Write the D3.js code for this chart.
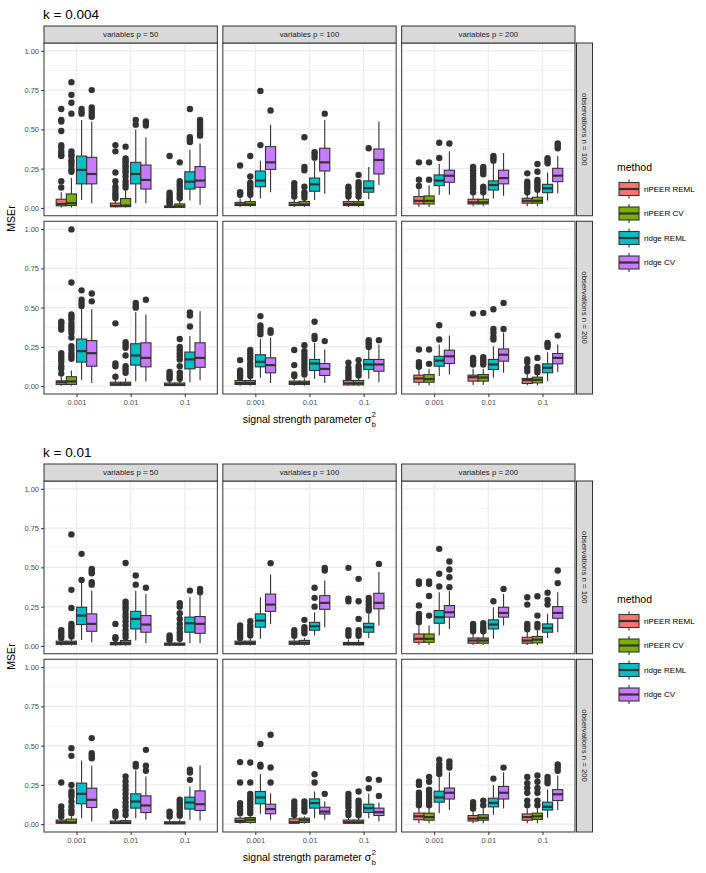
<!DOCTYPE html>
<html><head><meta charset="utf-8">
<script src="https://cdn.jsdelivr.net/npm/d3@7"></script>
<style>body{margin:0;background:#fff} svg{display:block} text{font-family:"Liberation Sans",Arial,Helvetica,sans-serif}</style>
</head><body><svg id="c" width="706" height="873"></svg>
<script>
// ---------------- DATA ----------------
const methods = ["riPEER REML","riPEER CV","ridge REML","ridge CV"];
const methodColors = ["#F8766D","#7CAE00","#00BFC4","#C77CFF"];
const sigmaLabels = ["0.001","0.01","0.1"];
const pLabels = ["variables p = 50","variables p = 100","variables p = 200"];
const nLabels = ["observations n = 100","observations n = 200"];
const yTicks = [0, 0.25, 0.5, 0.75, 1];
const yMinor = [0.125, 0.375, 0.625, 0.875];
const kTitles = ["k = 0.004","k = 0.01"];

// each entry: [lowerWhisker, q1, median, q3, upperWhisker, outliers]; order: sigma 0.001 (4 methods), 0.01, 0.1
const k004_p50_n100 = [
 [0.003,0.013,0.025,0.055,0.10,[0.63,0.56,0.55,0.49,0.40,0.385,0.36,0.34,0.33,0.17,0.13]],
 [0.003,0.015,0.03,0.089,0.19,[0.80,0.72,0.67,0.60,0.36,0.34,0.33,0.305,0.29,0.27,0.245,0.23]],
 [0.05,0.153,0.242,0.33,0.56,[0.63,0.61,0.60]],
 [0.03,0.153,0.216,0.322,0.55,[0.75,0.64,0.62,0.60,0.58]],
 [0.002,0.008,0.012,0.03,0.045,[0.40,0.36,0.225,0.17,0.135,0.115,0.093,0.078,0.061]],
 [0.002,0.008,0.015,0.06,0.12,[0.39,0.315,0.30,0.29,0.27,0.26,0.24,0.225,0.2,0.17,0.15,0.13]],
 [0.03,0.153,0.216,0.29,0.50,[0.56,0.53]],
 [0.03,0.12,0.178,0.273,0.45,[0.55,0.54,0.525]],
 [0.001,0.004,0.006,0.012,0.02,[0.33,0.097,0.083,0.068,0.055,0.045,0.034,0.025]],
 [0.001,0.004,0.01,0.025,0.05,[0.29,0.17,0.15,0.135,0.115,0.093,0.076,0.061]],
 [0.047,0.12,0.167,0.23,0.37,[0.63,0.45,0.44,0.43,0.42]],
 [0.02,0.131,0.174,0.263,0.41,[0.56,0.54,0.52,0.50,0.475,0.46]]
];
const k004_p100_n100 = [
 [0.005,0.015,0.022,0.035,0.06,[0.27,0.10,0.093,0.083]],
 [0.005,0.015,0.022,0.04,0.07,[0.33,0.2,0.16,0.145,0.13,0.115,0.097,0.083]],
 [0.06,0.135,0.174,0.235,0.30,[0.745,0.40]],
 [0.10,0.245,0.29,0.39,0.53,[0.62]],
 [0.005,0.015,0.02,0.035,0.055,[0.157,0.135,0.115,0.093,0.072]],
 [0.005,0.015,0.022,0.04,0.055,[0.45,0.26,0.24,0.135,0.10,0.083,0.065]],
 [0.05,0.106,0.15,0.19,0.30,[0.354,0.337,0.32]],
 [0.09,0.235,0.29,0.38,0.56,[0.60]],
 [0.005,0.015,0.025,0.04,0.06,[0.135,0.12,0.10,0.089,0.072]],
 [0.005,0.015,0.025,0.04,0.06,[0.21,0.163,0.144,0.131,0.115,0.093,0.072]],
 [0.055,0.10,0.125,0.172,0.26,[0.38]],
 [0.146,0.216,0.305,0.375,0.55,[]]
];
const k004_p200_n100 = [
 [0.005,0.025,0.045,0.072,0.12,[0.29,0.18,0.14]],
 [0.005,0.025,0.045,0.076,0.144,[0.29,0.18]],
 [0.083,0.142,0.174,0.21,0.28,[0.415,0.318]],
 [0.083,0.163,0.205,0.24,0.36,[0.41]],
 [0.01,0.025,0.035,0.055,0.09,[0.26,0.24,0.22,0.2,0.178,0.16,0.14,0.125,0.10]],
 [0.01,0.025,0.035,0.055,0.09,[0.26,0.245,0.23,0.214,0.135,0.12,0.10]],
 [0.06,0.114,0.146,0.172,0.28,[0.33,0.316,0.30]],
 [0.078,0.153,0.19,0.24,0.35,[]],
 [0.01,0.03,0.045,0.061,0.09,[0.22,0.167,0.15,0.135,0.12,0.10]],
 [0.01,0.03,0.045,0.068,0.10,[0.28,0.23,0.178,0.163,0.146,0.131,0.115]],
 [0.047,0.097,0.125,0.15,0.225,[0.316,0.30,0.284]],
 [0.093,0.167,0.205,0.252,0.33,[0.41,0.396,0.38]]
];
const k004_p50_n200 = [
 [0.002,0.011,0.025,0.034,0.06,[0.41,0.40,0.38,0.36,0.21,0.19,0.17,0.153,0.127,0.11,0.08]],
 [0.002,0.011,0.03,0.06,0.10,[0.998,0.66,0.456,0.44,0.425,0.40,0.38,0.36,0.34,0.31,0.255,0.234,0.21,0.19,0.174]],
 [0.04,0.153,0.223,0.30,0.50,[0.61,0.55,0.53,0.51]],
 [0.02,0.127,0.21,0.29,0.49,[0.59,0.54]],
 [0.001,0.006,0.012,0.025,0.045,[0.40,0.144,0.127,0.06]],
 [0.001,0.006,0.012,0.025,0.05,[0.28,0.26,0.244,0.195,0.127,0.106,0.085]],
 [0.03,0.134,0.195,0.27,0.47,[0.53,0.51,0.50]],
 [0.03,0.123,0.18,0.276,0.456,[0.55]],
 [0.001,0.004,0.008,0.02,0.035,[0.09,0.074,0.06,0.047]],
 [0.001,0.004,0.008,0.02,0.035,[0.30,0.25,0.23,0.21,0.19,0.17,0.127,0.085,0.064,0.047]],
 [0.025,0.11,0.17,0.217,0.32,[0.47,0.45,0.38]],
 [0.038,0.12,0.18,0.276,0.477,[]]
];
const k004_p100_n200 = [
 [0.002,0.011,0.02,0.036,0.045,[0.166,0.10,0.085,0.068,0.053]],
 [0.002,0.011,0.02,0.036,0.05,[0.23,0.21,0.187,0.17,0.144,0.127,0.106,0.085,0.064]],
 [0.053,0.123,0.155,0.20,0.30,[0.446,0.386,0.37,0.35,0.33]],
 [0.02,0.085,0.134,0.18,0.31,[0.357,0.34]],
 [0.002,0.011,0.02,0.032,0.05,[0.23,0.134,0.074,0.064]],
 [0.002,0.011,0.02,0.032,0.05,[0.26,0.223,0.2,0.18,0.16,0.138,0.117,0.095,0.074]],
 [0.047,0.10,0.144,0.17,0.276,[0.41,0.32,0.30]],
 [0.02,0.068,0.11,0.144,0.234,[0.287]],
 [0.002,0.008,0.018,0.036,0.04,[0.15,0.117,0.095,0.08,0.064,0.047]],
 [0.002,0.008,0.018,0.036,0.05,[0.166,0.13,0.11,0.09,0.068]],
 [0.047,0.106,0.138,0.17,0.234,[0.293,0.28,0.265,0.25]],
 [0.025,0.095,0.138,0.17,0.265,[0.293]]
];
const k004_p200_n200 = [
 [0.005,0.025,0.049,0.07,0.11,[0.233,0.153,0.138,0.123]],
 [0.005,0.025,0.045,0.074,0.11,[0.233,0.142]],
 [0.064,0.127,0.163,0.19,0.265,[0.388,0.297]],
 [0.074,0.144,0.19,0.229,0.322,[]],
 [0.008,0.032,0.057,0.07,0.11,[0.462,0.18,0.165,0.153,0.138]],
 [0.008,0.032,0.055,0.074,0.11,[0.466,0.184,0.17,0.153,0.138]],
 [0.053,0.106,0.138,0.17,0.254,[0.49,0.364,0.34,0.314,0.297]],
 [0.085,0.159,0.20,0.237,0.34,[0.53,0.364]],
 [0.005,0.017,0.038,0.049,0.08,[0.17,0.153,0.117,0.095]],
 [0.005,0.021,0.04,0.057,0.08,[0.18,0.123,0.106,0.089]],
 [0.032,0.085,0.117,0.142,0.216,[0.275,0.265,0.25]],
 [0.089,0.142,0.18,0.208,0.265,[0.322]]
];
const k01_p50_n100 = [
 [0.002,0.01,0.018,0.03,0.045,[0.1,0.08,0.064,0.05]],
 [0.002,0.01,0.018,0.03,0.045,[0.71,0.357,0.242,0.14,0.123,0.108,0.093,0.076,0.06]],
 [0.038,0.136,0.193,0.246,0.40,[0.586,0.42]],
 [0.023,0.093,0.14,0.204,0.352,[0.49,0.475,0.463,0.405,0.39]],
 [0.001,0.008,0.012,0.022,0.035,[0.14,0.055,0.045]],
 [0.001,0.008,0.019,0.034,0.045,[0.528,0.282,0.267,0.246,0.23,0.204,0.183,0.157,0.13,0.102,0.076,0.055]],
 [0.034,0.108,0.172,0.22,0.35,[0.448,0.39]],
 [0.017,0.087,0.136,0.193,0.33,[0.37]],
 [0.001,0.005,0.01,0.018,0.03,[0.066,0.05,0.038]],
 [0.001,0.005,0.01,0.018,0.03,[0.272,0.25,0.208,0.172,0.14,0.113,0.087,0.066,0.045]],
 [0.017,0.087,0.144,0.183,0.31,[0.352]],
 [0.017,0.08,0.14,0.187,0.327,[0.363,0.342]]
];
const k01_p100_n100 = [
 [0.003,0.01,0.018,0.03,0.045,[0.13,0.108,0.087,0.066,0.05]],
 [0.003,0.01,0.018,0.03,0.045,[0.157,0.13,0.108,0.087,0.066]],
 [0.045,0.119,0.161,0.204,0.31,[]],
 [0.14,0.22,0.263,0.33,0.454,[0.527]],
 [0.003,0.01,0.018,0.03,0.045,[0.1,0.08,0.064]],
 [0.003,0.01,0.02,0.035,0.05,[0.166,0.119,0.1,0.08]],
 [0.066,0.10,0.125,0.15,0.214,[0.37,0.306,0.25]],
 [0.119,0.233,0.274,0.32,0.416,[0.497,0.48]],
 [0.002,0.007,0.012,0.022,0.04,[0.497,0.30,0.284,0.1,0.08,0.064]],
 [0.002,0.007,0.012,0.022,0.04,[0.427,0.284,0.172,0.1,0.08,0.064]],
 [0.05,0.087,0.119,0.144,0.204,[0.306,0.284,0.263,0.242,0.225]],
 [0.13,0.236,0.274,0.335,0.47,[0.522]]
];
const k01_p200_n100 = [
 [0.005,0.023,0.045,0.076,0.13,[0.41,0.395,0.257,0.204,0.187,0.172,0.15]],
 [0.005,0.023,0.045,0.076,0.13,[0.41,0.395,0.318,0.193]],
 [0.066,0.144,0.183,0.225,0.342,[0.618,0.459,0.378]],
 [0.108,0.183,0.214,0.257,0.35,[0.537,0.486,0.437,0.374]],
 [0.005,0.017,0.034,0.05,0.09,[0.14,0.123,0.108,0.093]],
 [0.005,0.017,0.034,0.05,0.09,[0.144,0.123,0.108,0.093]],
 [0.045,0.108,0.136,0.166,0.246,[0.284]],
 [0.13,0.183,0.21,0.246,0.33,[0.363]],
 [0.005,0.017,0.034,0.055,0.09,[0.31,0.263,0.14,0.123,0.106]],
 [0.005,0.019,0.04,0.06,0.10,[0.316,0.193,0.14,0.119]],
 [0.05,0.087,0.113,0.14,0.204,[0.338,0.293,0.263]],
 [0.087,0.176,0.21,0.25,0.342,[0.48,0.40]]
];
const k01_p50_n200 = [
 [0.002,0.006,0.012,0.026,0.045,[0.265,0.112,0.087,0.066,0.049]],
 [0.002,0.006,0.012,0.032,0.05,[0.484,0.435,0.25,0.208,0.193,0.176,0.144,0.112,0.087,0.07]],
 [0.038,0.13,0.193,0.261,0.405,[]],
 [0.017,0.106,0.155,0.229,0.372,[0.548,0.452,0.435,0.42]],
 [0.001,0.004,0.008,0.02,0.035,[0.08,0.066,0.049]],
 [0.001,0.004,0.01,0.022,0.04,[0.304,0.272,0.244,0.219,0.193,0.166,0.138,0.112,0.087,0.059]],
 [0.038,0.102,0.144,0.193,0.342,[0.384,0.367]],
 [0.028,0.074,0.119,0.18,0.304,[0.473,0.372,0.34]],
 [0.001,0.003,0.006,0.015,0.03,[0.08,0.066,0.049]],
 [0.001,0.003,0.006,0.015,0.03,[0.155,0.138,0.123,0.108,0.091,0.07,0.053]],
 [0.028,0.096,0.138,0.172,0.24,[0.346,0.329,0.282]],
 [0.023,0.087,0.127,0.212,0.374,[]]
];
const k01_p100_n200 = [
 [0.002,0.011,0.021,0.038,0.055,[0.395,0.265,0.134,0.112,0.091,0.07]],
 [0.002,0.011,0.028,0.042,0.055,[0.393,0.265,0.193,0.176,0.159,0.142,0.125,0.108,0.087,0.07]],
 [0.066,0.13,0.17,0.208,0.32,[0.51,0.378,0.367]],
 [0.028,0.066,0.096,0.127,0.197,[0.569,0.361,0.265]],
 [0.002,0.006,0.012,0.034,0.05,[0.144,0.123,0.102,0.08,0.059]],
 [0.002,0.011,0.025,0.038,0.05,[0.144,0.123,0.102,0.08]],
 [0.038,0.102,0.134,0.161,0.208,[0.318,0.265]],
 [0.028,0.064,0.08,0.108,0.144,[0.193]],
 [0.002,0.006,0.012,0.026,0.045,[0.193,0.172,0.15,0.13,0.108,0.08,0.059]],
 [0.002,0.006,0.012,0.026,0.045,[0.208,0.15,0.134,0.117,0.096,0.074,0.057]],
 [0.038,0.074,0.102,0.127,0.193,[0.287,0.229]],
 [0.017,0.055,0.076,0.102,0.138,[0.282,0.18]]
];
const k01_p200_n200 = [
 [0.005,0.028,0.05,0.07,0.11,[0.27,0.25,0.20,0.18,0.16,0.14,0.12]],
 [0.005,0.025,0.045,0.07,0.11,[0.30,0.27,0.22,0.20,0.18,0.16,0.14,0.12]],
 [0.07,0.14,0.17,0.21,0.30,[0.41,0.38,0.36,0.34,0.32]],
 [0.09,0.16,0.20,0.23,0.33,[0.40,0.38,0.36]],
 [0.005,0.02,0.035,0.055,0.09,[0.14,0.12,0.10]],
 [0.005,0.025,0.04,0.06,0.10,[0.15,0.12]],
 [0.06,0.11,0.135,0.165,0.25,[0.29]],
 [0.10,0.16,0.20,0.24,0.33,[0.36]],
 [0.005,0.025,0.045,0.065,0.10,[0.30,0.26,0.23,0.20,0.15,0.12]],
 [0.005,0.03,0.05,0.07,0.11,[0.31,0.27,0.23,0.20,0.15,0.12]],
 [0.04,0.09,0.11,0.14,0.22,[0.30,0.28,0.26]],
 [0.09,0.15,0.19,0.22,0.31,[0.38,0.36,0.34]]
];

// plot -> row (n) -> column (p)
const plotPanels = [
  [[k004_p50_n100, k004_p100_n100, k004_p200_n100],[k004_p50_n200, k004_p100_n200, k004_p200_n200]],
  [[k01_p50_n100, k01_p100_n100, k01_p200_n100],[k01_p50_n200, k01_p100_n200, k01_p200_n200]]
];

// ---------------- LAYOUT ----------------
const svg = d3.select("#c");
const L = {left:44, right:575, gap:5.5, stripTop:26, stripH:17, rowH:172.75,
           plotOffsets:[0,438], legendFirstKey:[189,621], rStripX:576.5, rStripW:16};
const panelW = (L.right - L.left - 2*L.gap)/3;
const panelTop = L.stripTop + L.stripH;
const INK = "#333333";

function drawPlot(pi){
  const g = svg.append("g").attr("transform", `translate(0,${L.plotOffsets[pi]})`);
  g.append("text").attr("x", 43).attr("y", 18.5).attr("font-size", 13.5).attr("fill","#000").text(kTitles[pi]);

  for (let r=0;r<2;r++){
    for (let c=0;c<3;c++){
      const px = L.left + c*(panelW+L.gap);
      const py = panelTop + r*(L.rowH+L.gap);
      const x = d3.scalePoint().domain(sigmaLabels).range([px, px+panelW]).padding(0.6);
      const step = x.step();
      const xm = d3.scaleBand().domain(methods).range([-0.375*step, 0.375*step]);
      const y = d3.scaleLinear().domain([-0.05,1.05]).range([py+L.rowH, py]);
      const pg = g.append("g");
      pg.append("rect").attr("x",px).attr("y",py).attr("width",panelW).attr("height",L.rowH).attr("fill","#fff");
      // grid
      pg.selectAll(".mn").data(yMinor).join("line")
        .attr("x1",px).attr("x2",px+panelW).attr("y1",d=>y(d)).attr("y2",d=>y(d))
        .attr("stroke","#EBEBEB").attr("stroke-width",0.6);
      pg.selectAll(".mj").data(yTicks).join("line")
        .attr("x1",px).attr("x2",px+panelW).attr("y1",d=>y(d)).attr("y2",d=>y(d))
        .attr("stroke","#EBEBEB").attr("stroke-width",1.1);
      pg.selectAll(".vx").data(sigmaLabels).join("line")
        .attr("x1",d=>x(d)).attr("x2",d=>x(d)).attr("y1",py).attr("y2",py+L.rowH)
        .attr("stroke","#EBEBEB").attr("stroke-width",1.1);

      // boxes
      const data = plotPanels[pi][r][c];
      const bw = xm.bandwidth();
      data.forEach((d,i)=>{
        const s = Math.floor(i/4), m = i%4;
        const cx = x(sigmaLabels[s]) + xm(methods[m]) + bw/2;
        const [lo,q1,med,q3,hi,outs] = d;
        const bg = pg.append("g");
        bg.selectAll("circle").data(outs).join("circle")
          .attr("cx",cx).attr("cy",v=>y(v)).attr("r",3.2).attr("fill",INK);
        bg.append("line").attr("x1",cx).attr("x2",cx).attr("y1",y(hi)).attr("y2",y(q3)).attr("stroke",INK).attr("stroke-width",1.1);
        bg.append("line").attr("x1",cx).attr("x2",cx).attr("y1",y(q1)).attr("y2",y(lo)).attr("stroke",INK).attr("stroke-width",1.1);
        bg.append("rect").attr("x",cx-bw/2).attr("y",y(q3)).attr("width",bw).attr("height",Math.max(0.1,y(q1)-y(q3)))
          .attr("fill",methodColors[m]).attr("stroke",INK).attr("stroke-width",1.1);
        bg.append("line").attr("x1",cx-bw/2).attr("x2",cx+bw/2).attr("y1",y(med)).attr("y2",y(med)).attr("stroke",INK).attr("stroke-width",2.2);
      });
      pg.append("rect").attr("x",px).attr("y",py).attr("width",panelW).attr("height",L.rowH)
        .attr("fill","none").attr("stroke",INK).attr("stroke-width",1);

      // top strips
      if (r===0){
        g.append("rect").attr("x",px).attr("y",L.stripTop).attr("width",panelW).attr("height",L.stripH)
          .attr("fill","#D9D9D9").attr("stroke",INK).attr("stroke-width",1);
        g.append("text").attr("x",px+panelW/2).attr("y",L.stripTop+L.stripH/2).attr("dy","0.35em")
          .attr("text-anchor","middle").attr("font-size",7.8).attr("fill","#1A1A1A").text(pLabels[c]);
      }
      // right strips
      if (c===2){
        g.append("rect").attr("x",L.rStripX).attr("y",py).attr("width",L.rStripW).attr("height",L.rowH)
          .attr("fill","#D9D9D9").attr("stroke",INK).attr("stroke-width",1);
        g.append("text").attr("transform",`translate(${L.rStripX+L.rStripW/2},${py+L.rowH/2}) rotate(90)`)
          .attr("dy","0.35em").attr("text-anchor","middle").attr("font-size",7.8).attr("fill","#1A1A1A").text(nLabels[r]);
      }
      // y axis
      if (c===0){
        const ya = g.append("g").attr("transform",`translate(${px},0)`)
          .call(d3.axisLeft(y).tickValues(yTicks).tickFormat(d3.format(".2f")).tickSize(3).tickPadding(2));
        ya.select(".domain").remove();
        ya.selectAll(".tick line").attr("stroke",INK);
        ya.selectAll(".tick text").attr("font-size",7.5).attr("fill","#4D4D4D").attr("font-family",null);
      }
      // x axis
      if (r===1){
        const xa = g.append("g").attr("transform",`translate(0,${py+L.rowH})`)
          .call(d3.axisBottom(x).tickSize(3).tickPadding(3));
        xa.select(".domain").remove();
        xa.selectAll(".tick line").attr("stroke",INK);
        xa.selectAll(".tick text").attr("font-size",7.5).attr("fill","#4D4D4D").attr("font-family",null);
      }
    }
  }
  // y title
  const midY = (panelTop + panelTop + 2*L.rowH + L.gap)/2;
  g.append("text").attr("transform",`translate(15,${midY}) rotate(-90)`).attr("text-anchor","middle")
    .attr("font-size",10.5).attr("fill","#000").text("MSEr");
  // x title with sigma_b^2
  const xt = g.append("text").attr("y",423).attr("font-size",10.5).attr("fill","#000").attr("x",0)
     .text("signal strength parameter σ");
  const tl = xt.node().getComputedTextLength();
  const totalW = tl + 5;
  const cx0 = (L.left + L.right)/2 - totalW/2;
  xt.attr("x", cx0);
  g.append("text").attr("x",cx0+tl+0.5).attr("y",416.5).attr("font-size",7.5).attr("fill","#000").text("2");
  g.append("text").attr("x",cx0+tl+0.5).attr("y",426.5).attr("font-size",7.5).attr("fill","#000").text("b");

  // legend (positioned in absolute coords)
  const k0 = L.legendFirstKey[pi] - L.plotOffsets[pi];
  g.append("text").attr("x",617).attr("y",k0-18).attr("font-size",10.5).attr("fill","#000").text("method");
  methods.forEach((m,i)=>{
    const cy = k0 + i*24.5;
    const lx = 619, lw = 20, bh = 13, cxk = lx + lw/2;
    g.append("line").attr("x1",cxk).attr("x2",cxk).attr("y1",cy-9.5).attr("y2",cy+9.5).attr("stroke",INK).attr("stroke-width",1.1);
    g.append("rect").attr("x",lx).attr("y",cy-bh/2).attr("width",lw).attr("height",bh)
      .attr("fill",methodColors[i]).attr("stroke",INK).attr("stroke-width",1.1);
    g.append("line").attr("x1",lx).attr("x2",lx+lw).attr("y1",cy).attr("y2",cy).attr("stroke",INK).attr("stroke-width",2.2);
    g.append("text").attr("x",644).attr("y",cy).attr("dy","0.35em").attr("font-size",8).attr("fill","#000").text(m);
  });
}
drawPlot(0);
drawPlot(1);
</script></body></html>
